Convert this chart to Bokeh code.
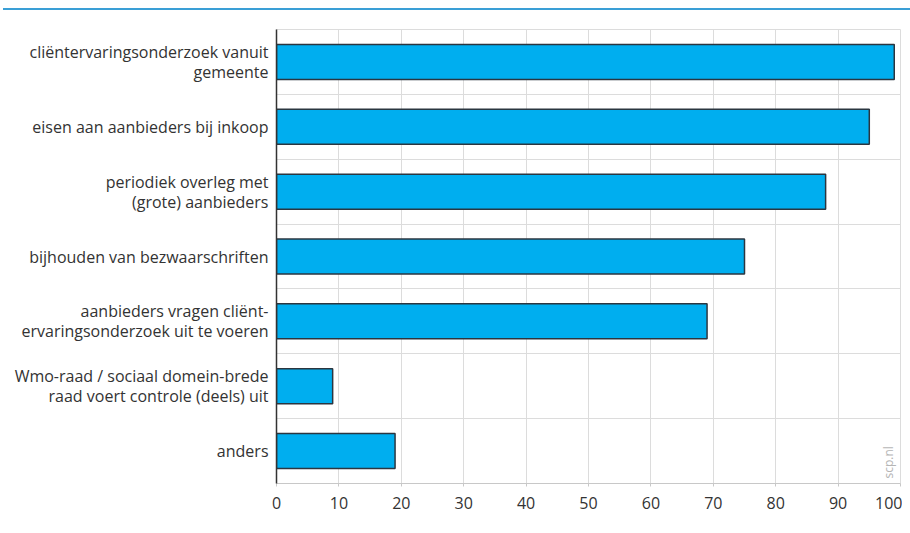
from bokeh.plotting import figure
from bokeh.models import FactorRange, Range1d, FixedTicker, Label, Div, ColumnDataSource
from bokeh.layouts import column
from bokeh.embed import file_html
from bokeh.resources import INLINE

categories = [
    "cliëntervaringsonderzoek vanuit\ngemeente",
    "eisen aan aanbieders bij inkoop",
    "periodiek overleg met\n(grote) aanbieders",
    "bijhouden van bezwaarschriften",
    "aanbieders vragen cliënt-\nervaringsonderzoek uit te voeren",
    "Wmo-raad / sociaal domein-brede\nraad voert controle (deels) uit",
    "anders",
]
values = [99, 95, 88, 75, 69, 9, 19]
x_ticks = [0, 10, 20, 30, 40, 50, 60, 70, 80, 90, 100]

FONT = "Open Sans"
TEXT = "#333333"
GRID = "#dcdcdc"

factors = list(reversed(categories))
src = ColumnDataSource(dict(cat=categories, val=values))

p = figure(
    width=902, height=515,
    y_range=FactorRange(factors=factors),
    x_range=Range1d(0, 100),
    output_backend="svg", toolbar_location=None,
    min_border_left=276, min_border_right=2, min_border_top=19, min_border_bottom=42,
    margin=(0, 0, 0, 0),
)
p.hbar(y="cat", right="val", left=0, height=0.54, source=src,
       fill_color="#00AEEF", line_color="#2b3640", line_width=1.5)

p.outline_line_color = GRID
p.outline_line_width = 1

p.xaxis.ticker = FixedTicker(ticks=x_ticks)
p.xgrid.ticker = FixedTicker(ticks=x_ticks)
p.xgrid.grid_line_color = GRID
p.ygrid.ticker = FixedTicker(ticks=[1, 2, 3, 4, 5, 6])
p.ygrid.grid_line_color = GRID

xa = p.xaxis[0]
xa.axis_line_color = "#c8c8c8"
xa.major_tick_line_color = "#c8c8c8"
xa.major_tick_out = 3
xa.major_tick_in = 0
xa.minor_tick_line_color = None
xa.major_label_standoff = 10
xa.major_label_text_font = FONT
xa.major_label_text_font_size = "16px"
xa.major_label_text_color = TEXT

ya = p.yaxis[0]
ya.axis_line_color = "#333333"
ya.axis_line_width = 1.5
ya.major_tick_line_color = None
ya.major_tick_out = 0
ya.major_tick_in = 0
ya.major_label_standoff = 8
ya.major_label_text_font = FONT
ya.major_label_text_font_size = "16px"
ya.major_label_text_color = TEXT
ya.major_label_text_line_height = 0.92

wm = Label(x=98.1, x_units="data", y=5, y_units="screen", text="scp.nl",
           angle=1.5708, text_align="left", text_baseline="middle",
           text_font=FONT, text_font_size="12px", text_color="#b5b5b5")
p.add_layout(wm)

top = Div(width=907, height=2, margin=(8, 0, 0, 3),
          styles={"background-color": "#3a9fd6"})
layout = column(top, p, spacing=0)

open("out.html", "w").write(file_html(layout, INLINE))
